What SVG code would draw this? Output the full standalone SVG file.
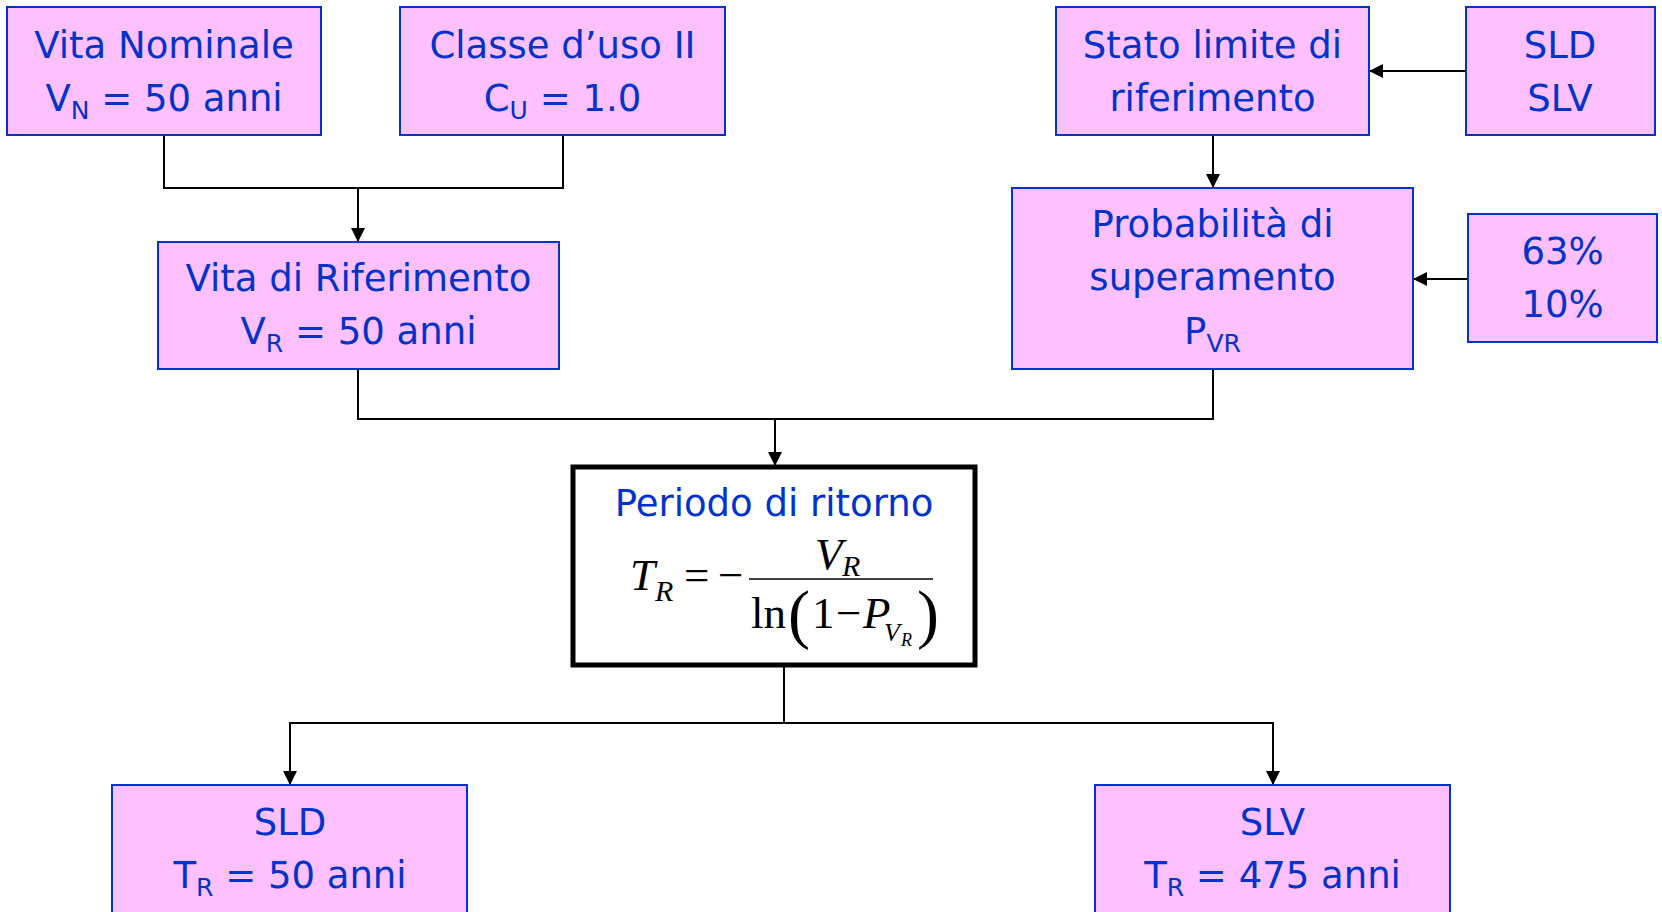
<svg xmlns="http://www.w3.org/2000/svg" width="1662" height="912" viewBox="0 0 1662 912">
<style>
.box{fill:#ffc0ff;stroke:#0033cc;stroke-width:2}
.t{font-family:"DejaVu Sans",Verdana,sans-serif;font-size:37px;fill:#0033cc;text-anchor:middle}
.sub{font-size:25px}
.conn{fill:none;stroke:#000;stroke-width:2}
.m{font-family:"Liberation Serif","Times New Roman",serif;fill:#000}
.mi{font-style:italic}
</style>
<defs>
<marker id="ah" markerUnits="userSpaceOnUse" markerWidth="14" markerHeight="14" viewBox="0 0 14 14" refX="14" refY="7" orient="auto">
<path d="M0,0 L14,7 L0,14 Z" fill="#000"/>
</marker>
</defs>
<g id="connectors">
<path class="conn" d="M164,135 V188 H563 V135"/>
<path class="conn" d="M358,188 V242" marker-end="url(#ah)"/>
<path class="conn" d="M1213,135 V188" marker-end="url(#ah)"/>
<path class="conn" d="M1466,71 H1369" marker-end="url(#ah)"/>
<path class="conn" d="M1468,279 H1413" marker-end="url(#ah)"/>
<path class="conn" d="M358,369 V419 H1213 V369"/>
<path class="conn" d="M775,419 V466" marker-end="url(#ah)"/>
<path class="conn" d="M784,665 V723 H290 V785" marker-end="url(#ah)"/>
<path class="conn" d="M784,723 H1273 V785" marker-end="url(#ah)"/>
</g>
<g id="vita-nominale">
<rect class="box" x="7" y="7" width="314" height="128"/>
<text class="t" x="164" y="58">Vita Nominale</text>
<text class="t" x="164" y="111">V<tspan class="sub" dy="8">N</tspan><tspan dy="-8"> = 50 anni</tspan></text>
</g>
<g id="classe-uso">
<rect class="box" x="400" y="7" width="325" height="128"/>
<text class="t" x="562.5" y="58">Classe d’uso II</text>
<text class="t" x="562.5" y="111">C<tspan class="sub" dy="8">U</tspan><tspan dy="-8"> = 1.0</tspan></text>
</g>
<g id="stato-limite">
<rect class="box" x="1056" y="7" width="313" height="128"/>
<text class="t" x="1212.5" y="58">Stato limite di</text>
<text class="t" x="1212.5" y="111">riferimento</text>
</g>
<g id="sld-slv">
<rect class="box" x="1466" y="7" width="189" height="128"/>
<text class="t" x="1560" y="58">SLD</text>
<text class="t" x="1560" y="111">SLV</text>
</g>
<g id="vita-riferimento">
<rect class="box" x="158" y="242" width="401" height="127"/>
<text class="t" x="358.5" y="291">Vita di Riferimento</text>
<text class="t" x="358.5" y="344">V<tspan class="sub" dy="8">R</tspan><tspan dy="-8"> = 50 anni</tspan></text>
</g>
<g id="probabilita">
<rect class="box" x="1012" y="188" width="401" height="181"/>
<text class="t" x="1212.5" y="237">Probabilità di</text>
<text class="t" x="1212.5" y="290">superamento</text>
<text class="t" x="1212.5" y="344">P<tspan class="sub" dy="8">VR</tspan></text>
</g>
<g id="percentuali">
<rect class="box" x="1468" y="214" width="189" height="128"/>
<text class="t" x="1562.5" y="264">63%</text>
<text class="t" x="1562.5" y="317">10%</text>
</g>
<g id="periodo-ritorno">
<rect x="573" y="467" width="402" height="198" fill="#fff" stroke="#000" stroke-width="5"/>
<text class="t" x="774" y="516">Periodo di ritorno</text>
<text class="m mi" x="630" y="590" font-size="45">T</text>
<text class="m mi" x="655" y="601" font-size="30">R</text>
<text class="m" x="684" y="590" font-size="45">=</text>
<text class="m" x="718" y="590" font-size="45">−</text>
<line x1="749" y1="579" x2="933" y2="579" stroke="#000" stroke-width="1.5"/>
<text class="m mi" x="815" y="569" font-size="45">V</text>
<text class="m mi" x="842" y="576" font-size="30">R</text>
<text class="m" x="751" y="628" font-size="45">ln</text>
<text class="m" x="788" y="636" font-size="66">(</text>
<text class="m" x="812" y="628" font-size="45">1</text>
<text class="m" x="836" y="628" font-size="45">−</text>
<text class="m mi" x="863" y="628" font-size="45">P</text>
<text class="m mi" x="884" y="641" font-size="26">V</text>
<text class="m mi" x="901" y="646" font-size="18">R</text>
<text class="m" x="917" y="636" font-size="66">)</text>
</g>
<g id="sld-tr">
<rect class="box" x="112" y="785" width="355" height="140"/>
<text class="t" x="290" y="835">SLD</text>
<text class="t" x="290" y="888">T<tspan class="sub" dy="8">R</tspan><tspan dy="-8"> = 50 anni</tspan></text>
</g>
<g id="slv-tr">
<rect class="box" x="1095" y="785" width="355" height="140"/>
<text class="t" x="1272.5" y="835">SLV</text>
<text class="t" x="1272.5" y="888">T<tspan class="sub" dy="8">R</tspan><tspan dy="-8"> = 475 anni</tspan></text>
</g>
</svg>
